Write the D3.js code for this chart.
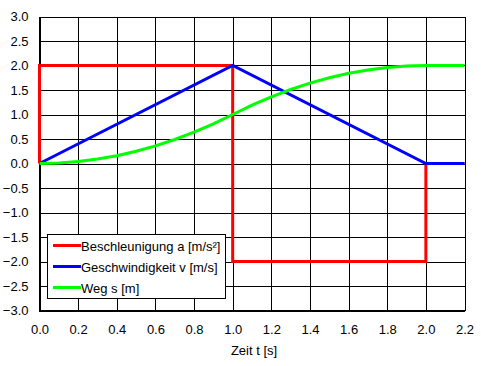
<!DOCTYPE html>
<html><head><meta charset="utf-8">
<script src="https://cdn.jsdelivr.net/npm/d3@7"></script>
<style>body{margin:0;background:#fff}svg{display:block}text{font-family:"Liberation Sans",Arial,sans-serif;fill:#000}</style>
</head><body><svg id="c" width="481" height="366"></svg>
<script>
const xTicks = [0,0.2,0.4,0.6,0.8,1.0,1.2,1.4,1.6,1.8,2.0,2.2];
const yTicks = [-3,-2.5,-2,-1.5,-1,-0.5,0,0.5,1,1.5,2,2.5,3];
const seriesNames = ["Beschleunigung a [m/s²]","Geschwindigkeit v [m/s]","Weg s [m]"];
const seriesColors = ["#ff0000","#0000ff","#00ff00"];
const accelT = [0,0,1,1,2,2,2.2];
const accelV = [0,2,2,-2,-2,0,0];
const velT = [0,1,2,2.2];
const velV = [0,2,0,0];
const posT = [0,0.1,0.2,0.3,0.4,0.5,0.6,0.7,0.8,0.9,1.0,1.1,1.2,1.3,1.4,1.5,1.6,1.7,1.8,1.9,2.0,2.1,2.2];
const posV = [0,0.01,0.04,0.09,0.16,0.25,0.36,0.49,0.64,0.81,1.0,1.19,1.36,1.51,1.64,1.75,1.84,1.91,1.96,1.99,2.0,2.0,2.0];

const svg = d3.select("#c");
const L=39.5,R=464.5,T=16.5,B=310.5;
const x = d3.scaleLinear().domain([0,2.2]).range([L,R]);
const y = d3.scaleLinear().domain([-3,3]).range([B,T]);

// grid
const g = svg.append("g").attr("shape-rendering","crispEdges");
g.selectAll(".vx").data(xTicks).join("line").attr("x1",d=>Math.round(x(d))+0.5).attr("x2",d=>Math.round(x(d))+0.5)
  .attr("y1",T).attr("y2",B).attr("stroke","#000");
g.selectAll(".hy").data(yTicks).join("line").attr("y1",d=>Math.round(y(d))+0.5).attr("y2",d=>Math.round(y(d))+0.5)
  .attr("x1",L).attr("x2",R).attr("stroke","#000");
// thick left/bottom axes
g.append("line").attr("x1",L).attr("x2",L).attr("y1",T).attr("y2",B+1).attr("stroke","#000").attr("stroke-width",2);
g.append("line").attr("x1",L-1).attr("x2",R+0.5).attr("y1",B).attr("y2",B).attr("stroke","#000").attr("stroke-width",2);

// axes labels via d3 axes
const xAxis = d3.axisBottom(x).tickValues(xTicks).tickFormat(d3.format(".1f")).tickSize(0).tickPadding(14);
const yAxis = d3.axisLeft(y).tickValues(yTicks).tickFormat(d3.format(".1f")).tickSize(0).tickPadding(11);
const ax = svg.append("g").attr("transform",`translate(0,${B})`).call(xAxis);
const ay = svg.append("g").attr("transform",`translate(${L},0)`).call(yAxis);
[ax,ay].forEach(a=>{a.select(".domain").remove();a.selectAll("text").attr("font-size",13).attr("font-family","Liberation Sans, Arial, sans-serif").attr("fill","#000");});

svg.append("text").attr("x",(L+R)/2+2).attr("y",355).attr("text-anchor","middle").attr("font-size",13).text("Zeit t [s]");

// series
const line = d3.line().x(d=>x(d[0])).y(d=>y(d[1]));
const data = [d3.zip(accelT,accelV), d3.zip(velT,velV), d3.zip(posT,posV)];
data.forEach((d,i)=>{
  svg.append("path").attr("d",line(d)).attr("fill","none").attr("stroke",seriesColors[i]).attr("stroke-width",3).attr("stroke-linejoin","miter");
});

// legend
const lg = svg.append("g");
lg.append("rect").attr("x",47.5).attr("y",234.5).attr("width",178).attr("height",64).attr("fill","#fff").attr("stroke","#000").attr("shape-rendering","crispEdges");
seriesNames.forEach((n,i)=>{
  const yy = 245.5 + i*21;
  lg.append("line").attr("x1",53).attr("x2",81).attr("y1",yy).attr("y2",yy).attr("stroke",seriesColors[i]).attr("stroke-width",3);
  lg.append("text").attr("x",81).attr("y",yy+5).attr("font-size",13).text(n);
});
</script></body></html>
